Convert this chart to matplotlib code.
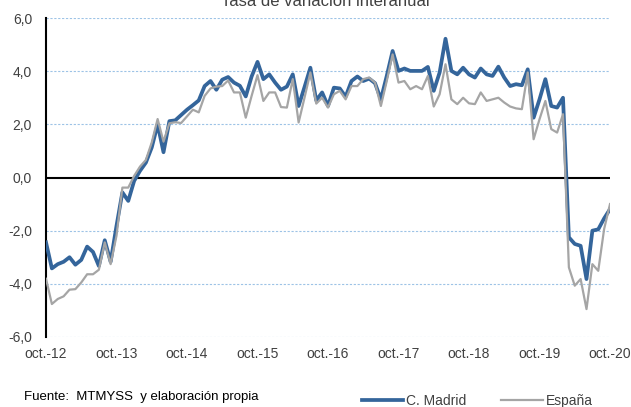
import numpy as np
import matplotlib
matplotlib.use("Agg")
import matplotlib.pyplot as plt

plt.rcParams['font.family'] = ['Liberation Sans', 'DejaVu Sans']

# monthly values, oct-12 .. oct-20
madrid = [-2.44, -3.42, -3.26, -3.17, -3.0, -3.28, -3.1, -2.6, -2.8, -3.33, -2.36, -3.17,
          -1.82, -0.56, -0.88, -0.13, 0.25, 0.56, 1.13, 2.0, 0.95, 2.12, 2.15, 2.35,
          2.55, 2.72, 2.9, 3.44, 3.63, 3.3, 3.68, 3.78, 3.57, 3.45, 3.05, 3.8,
          4.35, 3.7, 3.88, 3.57, 3.3, 3.42, 3.88, 2.69, 3.4, 4.13, 2.9, 3.2,
          2.69, 3.38, 3.35, 3.04, 3.63, 3.8, 3.63, 3.72, 3.55, 2.94, 3.82, 4.76,
          4.01, 4.1, 4.01, 4.01, 4.01, 4.16, 3.26, 3.95, 5.22, 4.01, 3.88, 4.13,
          3.88, 3.76, 4.1, 3.88, 3.82, 4.17, 3.76, 3.44, 3.51, 3.47, 4.07, 2.25,
          2.94, 3.7, 2.69, 2.63, 3.0, -2.25, -2.5, -2.57, -3.82, -2.0, -1.95, -1.54,
          -1.19]
espana = [-3.81, -4.76, -4.57, -4.47, -4.22, -4.2, -3.95, -3.64, -3.64, -3.47, -2.44, -3.26,
          -2.19, -0.38, -0.38, 0.06, 0.41, 0.66, 1.32, 2.2, 1.35, 2.04, 2.08, 2.05,
          2.3, 2.55, 2.45, 3.07, 3.35, 3.42, 3.44, 3.65, 3.2, 3.2, 2.25, 3.07,
          3.85, 2.88, 3.2, 3.2, 2.65, 2.63, 3.7, 2.07, 3.0, 3.95, 2.78, 3.0,
          2.63, 3.13, 3.26, 2.94, 3.44, 3.44, 3.7, 3.76, 3.57, 2.69, 3.63, 4.63,
          3.57, 3.63, 3.32, 3.44, 3.32, 3.82, 2.67, 3.13, 4.26, 2.94, 2.76, 3.0,
          2.79, 2.76, 3.2, 2.88, 2.94, 3.0, 2.82, 2.67, 2.6, 2.57, 3.95, 1.44,
          2.19, 2.88, 1.82, 1.69, 2.38, -3.38, -4.07, -3.82, -4.95, -3.26, -3.51, -1.94,
          -1.0]
tick_labels = ['oct.-12', 'oct.-13', 'oct.-14', 'oct.-15', 'oct.-16',
               'oct.-17', 'oct.-18', 'oct.-19', 'oct.-20']
y_ticks = [-6, -4, -2, 0, 2, 4, 6]

x = np.arange(len(madrid))
txt = '#404040'

fig = plt.figure(figsize=(6.31, 4.07), dpi=100)
ax = fig.add_axes([46/631, 1 - 337/407, 564/631, 319/407])

for v in y_ticks:
    if v != 0:
        ax.axhline(v, color='#9DC3E6', lw=0.8, ls=(0, (2, 1.5)), zorder=1)
ax.axhline(0, color='black', lw=1.5, zorder=2)

ax.plot(x, madrid, color='#34659B', lw=2.7, label='C. Madrid', zorder=3)
ax.plot(x, espana, color='#A5A5A5', lw=1.6, label='España', zorder=4)

ax.set_xlim(0, len(madrid) - 1)
ax.set_ylim(-6, 6)
ax.set_yticks(y_ticks)
ax.set_yticklabels([f'{v:.1f}'.replace('.', ',') for v in y_ticks])
ax.set_xticks(np.arange(0, len(madrid), 12))
ax.set_xticklabels(tick_labels)
ax.tick_params(length=0, labelsize=10, colors=txt)
ax.tick_params(axis='y', pad=10)
ax.tick_params(axis='x', pad=7)
for s in ['top', 'right', 'bottom']:
    ax.spines[s].set_visible(False)
ax.spines['left'].set_color('black')
ax.spines['left'].set_linewidth(1.5)

fig.text(0.515, 1 - 6/407, 'Tasa de variación interanual', ha='center',
         va='baseline', fontsize=12, color=txt)
fig.text(24/631, 1 - 397/407, 'Fuente:  MTMYSS  y elaboración propia',
         ha='left', va='center', fontsize=9.5, color='black')
fig.legend(loc='center', bbox_to_anchor=(477/631, 1 - 401/407), ncol=2,
           frameon=False, fontsize=10, handlelength=3, columnspacing=2.5,
           handletextpad=0.2, labelcolor=txt)

fig.savefig('out.png', dpi=100)
